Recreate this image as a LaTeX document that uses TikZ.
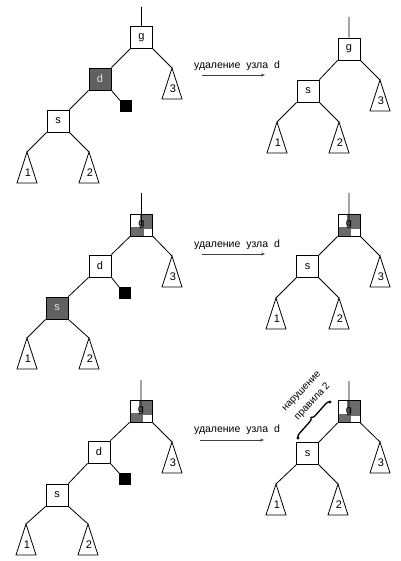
\documentclass[tikz,border=0pt]{standalone}
\usepackage{fontspec}
\setmainfont{Liberation Sans}
\usetikzlibrary{arrows.meta,calc,backgrounds,decorations.pathreplacing}
\newcommand\dblnode[2]{%
  \node[box] (#1) at (#2) {g};
  \begin{scope}[on background layer]
    \fill[white] (#1.south west) rectangle (#1.north east);
    \fill[black!58] ($(#1.north)+(-2,0)$) rectangle ($(#1.east)+(0,4)$);
    \fill[black!58] ($(#1.west)+(0,2)$) rectangle ($(#1.south)+(2,0)$);
  \end{scope}}
\begin{document}
\begin{tikzpicture}[x=1pt,y=-1pt,
  box/.style={draw,line width=0.8pt,minimum size=22pt,inner sep=0pt,font=\fontsize{11}{12}\selectfont},
  wbox/.style={box,fill=white},
  gbox/.style={box,fill=black!62,text=black!12},
  bleaf/.style={draw,fill=black,minimum size=11pt,inner sep=0pt},
  edge/.style={line width=0.8pt},
  op/.style={font=\fontsize{10.5}{12}\selectfont},
  oparrow/.style={line width=0.6pt,black!75,-{Stealth[length=4pt,width=3pt]}},
  pics/subtree/.style={code={
    \draw[edge,fill=white] (0,0) -- (-10,31) -- (10,31) -- cycle;
    \node[font=\fontsize{11}{12}\selectfont,inner sep=0pt] (-n) at (1,21) {#1};}},
]
\useasboundingbox (0,0) rectangle (400,561);

% ---------- Row 1 left
\node[wbox] (g1) at (141.5,37.5) {g};
\node[gbox] (d1) at (100,79) {d};
\node[bleaf] (n1) at (125.5,106) {};
\node[wbox] (s1) at (58,121) {s};
\coordinate (r1) at (141.5,7);
\coordinate (a11) at (27,152);
\coordinate (a12) at (89,152);
\coordinate (a13) at (172,68);
\draw[edge] (r1) -- (g1.north) (g1.south west) -- (d1.north east)
  (g1.south east) -- (a13) (d1.south west) -- (s1.north east)
  (d1.south east) -- (n1.north west) (s1.south west) -- (a11) (s1.south east) -- (a12);
\pic (p11) at (a11) {subtree=1};
\pic (p12) at (a12) {subtree=2};
\pic (p13) at (a13) {subtree=3};

% ---------- Row 1 right
\node[wbox] (g1r) at (349,49) {g};
\node[wbox] (s1r) at (308,91) {s};
\coordinate (r1r) at (349,17);
\coordinate (b11) at (277,122);
\coordinate (b12) at (339,122);
\coordinate (b13) at (380,80);
\draw[edge] (r1r) -- (g1r.north) (g1r.south west) -- (s1r.north east)
  (g1r.south east) -- (b13) (s1r.south west) -- (b11) (s1r.south east) -- (b12);
\pic (q11) at (b11) {subtree=1};
\pic (q12) at (b12) {subtree=2};
\pic (q13) at (b13) {subtree=3};

\node[op] (lab1) at (237,66) {удаление\ \ узла\ \ d};
\coordinate (ar1s) at (202,75);
\coordinate (ar1e) at (265,75);
\draw[oparrow] (ar1s) -- (ar1e);

% ---------- Row 2 left
\dblnode{g2}{141.5,225}
\node[wbox] (d2) at (100,266) {d};
\node[bleaf] (n2) at (125,293) {};
\node[gbox] (s2) at (57,308) {s};
\coordinate (r2) at (141.5,193);
\coordinate (a21) at (27,338);
\coordinate (a22) at (89,338);
\coordinate (a23) at (172,256);
\draw[edge] (r2) -- (g2.center) (g2.south west) -- (d2.north east)
  (g2.south east) -- (a23) (d2.south west) -- (s2.north east)
  (d2.south east) -- (n2.north west) (s2.south west) -- (a21) (s2.south east) -- (a22);
\pic (p21) at (a21) {subtree=1};
\pic (p22) at (a22) {subtree=2};
\pic (p23) at (a23) {subtree=3};

% ---------- Row 2 right
\dblnode{g2r}{349,225}
\node[wbox] (s2r) at (307.5,266.5) {s};
\coordinate (r2r) at (349,193);
\coordinate (b21) at (276,298);
\coordinate (b22) at (339,298);
\coordinate (b23) at (380,256);
\draw[edge] (r2r) -- (g2r.center) (g2r.south west) -- (s2r.north east)
  (g2r.south east) -- (b23) (s2r.south west) -- (b21) (s2r.south east) -- (b22);
\pic (q21) at (b21) {subtree=1};
\pic (q22) at (b22) {subtree=2};
\pic (q23) at (b23) {subtree=3};

\node[op] (lab2) at (237,245) {удаление\ \ узла\ \ d};
\coordinate (ar2s) at (202,254);
\coordinate (ar2e) at (265,254);
\draw[oparrow] (ar2s) -- (ar2e);

% ---------- Row 3 left
\dblnode{g3}{141,411}
\node[wbox] (d3) at (99,452) {d};
\node[bleaf] (n3) at (125,479) {};
\node[wbox] (s3) at (57,495) {s};
\coordinate (r3) at (141,380);
\coordinate (a31) at (26,524);
\coordinate (a32) at (88,524);
\coordinate (a33) at (172,442);
\draw[edge] (r3) -- (g3.center) (g3.south west) -- (d3.north east)
  (g3.south east) -- (a33) (d3.south west) -- (s3.north east)
  (d3.south east) -- (n3.north west) (s3.south west) -- (a31) (s3.south east) -- (a32);
\pic (p31) at (a31) {subtree=1};
\pic (p32) at (a32) {subtree=2};
\pic (p33) at (a33) {subtree=3};

% ---------- Row 3 right
\dblnode{g3r}{349,411.5}
\node[wbox] (s3r) at (307.5,453.5) {s};
\coordinate (r3r) at (349,381);
\coordinate (b31) at (276,484);
\coordinate (b32) at (338,484);
\coordinate (b33) at (380,442);
\draw[edge] (r3r) -- (g3r.center) (g3r.south west) -- (s3r.north east)
  (g3r.south east) -- (b33) (s3r.south west) -- (b31) (s3r.south east) -- (b32);
\pic (q31) at (b31) {subtree=1};
\pic (q32) at (b32) {subtree=2};
\pic (q33) at (b33) {subtree=3};

\node[op] (lab3) at (237,430) {удаление\ \ узла\ \ d};
\coordinate (ar3s) at (200,440);
\coordinate (ar3e) at (264,440);
\draw[oparrow] (ar3s) -- (ar3e);

% violation annotation
\node[rotate=47,align=center,font=\fontsize{10}{12}\selectfont,inner sep=0pt] (viol) at (307.5,397)
  {нарушение\\[3pt]правила 2};
\coordinate (br1) at (298,438);
\coordinate (br2) at (330,402);
\draw[line width=1.3pt,decorate,decoration={brace,amplitude=4pt}] (br1) -- (br2);
\fill (br1) circle (1.6pt) (br2) circle (1.6pt);
\end{tikzpicture}
\end{document}
